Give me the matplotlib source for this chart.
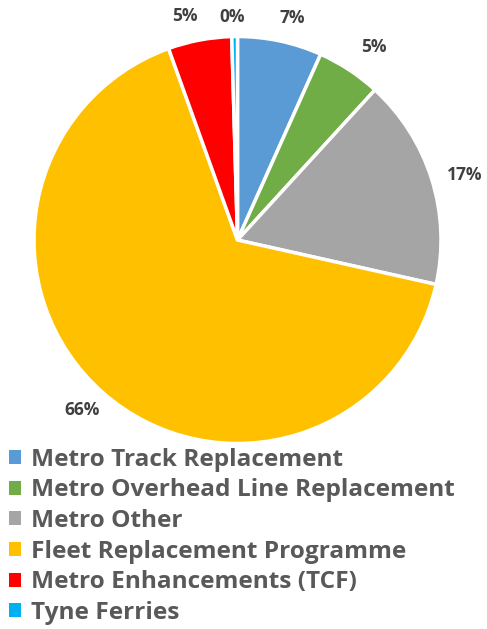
import numpy as np
import matplotlib
matplotlib.use('Agg')
import matplotlib.pyplot as plt
from matplotlib.patches import Patch

# data
categories = ['Metro Track Replacement', 'Metro Overhead Line Replacement',
              'Metro Other', 'Fleet Replacement Programme',
              'Metro Enhancements (TCF)', 'Tyne Ferries']
shares = [6.7, 5.1, 16.7, 66.0, 5.05, 0.45]
colors = ['#5B9BD5', '#70AD47', '#A5A5A5', '#FFC000', '#FF0000', '#00B0F0']
label_dist = [1.123, 1.16, 1.16, 1.13, 1.13, 1.095]
label_nudge = [-1.7, -2.0, -1.5, -1.1, 2.6, 0.6]  # degrees

plt.rcParams['font.family'] = ['Open Sans', 'DejaVu Sans']

W, H = 487, 629
fig = plt.figure(figsize=(W / 100, H / 100), dpi=100)

cx, cy, r = 237.5, 240, 203.5
ax = fig.add_axes([(cx - r) / W, (H - cy - r) / H, 2 * r / W, 2 * r / H])
wedges, _ = ax.pie(shares, colors=colors, startangle=90, counterclock=False,
                   radius=1, wedgeprops=dict(edgecolor='white', linewidth=2.5))
ax.set_xlim(-1, 1)
ax.set_ylim(-1, 1)
ax.set_aspect('equal')
ax.axis('off')

total = sum(shares)
for w, v, d, n in zip(wedges, shares, label_dist, label_nudge):
    ang = np.deg2rad((w.theta1 + w.theta2) / 2 + n)
    ax.text(d * np.cos(ang), d * np.sin(ang), f'{round(100 * v / total):.0f}%',
            ha='center', va='center', fontsize=12.5, fontweight='bold',
            color='#404040', clip_on=False)

handles = [Patch(facecolor=c, edgecolor='none') for c in colors]
leg = fig.legend(handles, categories, loc='upper left',
                 bbox_to_anchor=(4 / W, 1 - 443 / H), frameon=False,
                 prop=dict(size=17.6, weight='bold'), labelcolor='#595959',
                 handlelength=0.5, handleheight=0.5, handletextpad=0.4,
                 labelspacing=0.27, borderaxespad=0, borderpad=0.2)

fig.savefig('out.png', dpi=100)
